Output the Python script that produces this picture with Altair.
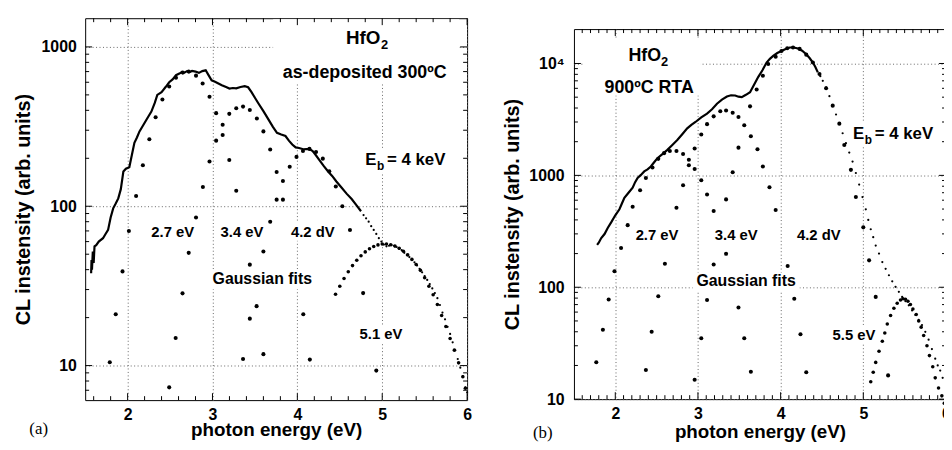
import altair as alt
import pandas as pd

FONT = "Liberation Sans"

# ---------------- panel (a): as-deposited 300 C ----------------
a_line_x = [1.57, 1.575, 1.58, 1.59, 1.60, 1.61, 1.63, 1.66, 1.71, 1.74, 1.77, 1.80, 1.83, 1.86, 1.89,
            1.92, 1.95, 1.98, 2.02, 2.05, 2.08, 2.11, 2.14, 2.18, 2.22, 2.25, 2.28, 2.32, 2.35, 2.40,
            2.45, 2.49, 2.53, 2.57, 2.61, 2.64, 2.67, 2.70, 2.73, 2.76, 2.80, 2.84, 2.88, 2.92, 2.95,
            2.99, 3.03, 3.07, 3.11, 3.16, 3.20, 3.24, 3.28, 3.33, 3.38, 3.42, 3.46, 3.50, 3.54, 3.60,
            3.65, 3.71, 3.76, 3.81, 3.86, 3.90, 3.94, 3.98, 4.02, 4.07, 4.14, 4.18, 4.21, 4.26, 4.31,
            4.36, 4.41, 4.46, 4.52, 4.58, 4.64, 4.70, 4.75]
a_line_y = [38, 46, 40, 52, 44, 56, 57, 60, 63, 67, 71, 85, 97, 104, 112,
            128, 165, 172, 176, 210, 250, 270, 295, 320, 348, 370, 393, 445, 500, 520,
            562, 600, 625, 664, 680, 697, 690, 705, 695, 707, 700, 687, 705, 713, 670,
            617, 605, 590, 575, 560, 548, 552, 550, 560, 567, 558, 520, 480, 443, 395,
            357, 316, 289, 282, 276, 258, 244, 234, 232, 228, 229, 222, 212, 195, 179,
            166, 155, 143, 131, 120, 111, 101, 93]
a_tail_x = [4.78, 4.81, 4.84, 4.87, 4.90, 4.93, 4.96, 4.99, 5.02, 5.05, 5.08, 5.11, 5.14, 5.17, 5.20,
            5.23, 5.26, 5.29, 5.32, 5.35, 5.38, 5.41, 5.44, 5.47, 5.50, 5.53, 5.56, 5.59, 5.62, 5.65,
            5.68, 5.71, 5.74, 5.77, 5.80, 5.83, 5.86, 5.89, 5.92, 5.95, 5.98, 6.00]
a_tail_y = [88, 84, 80, 75, 71, 67, 63, 60, 57.5, 56, 56.5, 57, 56.5, 55.5, 54,
            53, 51, 49.5, 48, 46, 44.5, 42.5, 40.5, 38.5, 36.5, 34.5, 32.5, 30.5, 28.5, 26.5,
            24, 21.5, 19.5, 17.5, 15.8, 14, 12.5, 11, 9.7, 8.6, 7.3, 6.8]
a_fit51_x = [4.45, 4.50, 4.55, 4.60, 4.65, 4.70, 4.75, 4.80, 4.85, 4.90, 4.95, 5.00, 5.05, 5.10, 5.15,
             5.20, 5.25, 5.30, 5.35, 5.40, 5.45, 5.50, 5.55, 5.60, 5.65, 5.70, 5.75, 5.80, 5.85, 5.90,
             5.95, 5.98]
a_fit51_y = [28.0, 31.5, 35.2, 38.8, 42.4, 45.8, 48.9, 51.7, 54.1, 55.9, 57.2, 57.9, 58.0, 57.4, 56.2,
             54.5, 52.2, 49.5, 46.4, 43.1, 39.6, 35.6, 31.5, 27.8, 24.2, 20.6, 17.6, 14.8, 12.5, 10.4,
             8.5, 7.2]
a_fit27_x = [1.79, 1.86, 1.94, 2.015, 2.10, 2.18, 2.256, 2.33, 2.41, 2.49, 2.57, 2.65, 2.72, 2.806,
             2.884, 2.965, 3.043, 3.12, 3.198, 3.28, 3.44, 3.52, 3.60]
a_fit27_y = [10.5, 21, 39, 70, 116, 181, 263, 362, 468, 565, 640, 690, 700, 660,
             589, 487, 384, 280, 195, 125, 43, 23.6, 11.8]
a_fit34_x = [2.49, 2.566, 2.647, 2.72, 2.806, 2.887, 2.965, 3.043, 3.12, 3.198, 3.28, 3.36, 3.44,
             3.523, 3.60, 3.68, 3.756, 3.83, 4.07, 4.147]
a_fit34_y = [7.3, 14.9, 28.4, 51, 85, 132, 191, 258, 325, 380, 412, 422, 402,
             355, 295, 227, 164, 110, 21, 10.9]
a_fit42_x = [3.36, 3.44, 3.60, 3.68, 3.756, 3.83, 3.91, 3.99, 4.066, 4.143, 4.22, 4.30, 4.376, 4.453,
             4.53, 4.62, 4.775, 4.93]
a_fit42_y = [11, 19.7, 52, 80, 110, 144, 177, 204, 222, 229, 219, 199, 166, 133,
             100, 71, 28.5, 9.3]

# ---------------- panel (b): 900 C RTA ----------------
b_line_x = [1.78, 1.80, 1.83, 1.87, 1.91, 1.95, 2.00, 2.05, 2.08, 2.11, 2.16, 2.21, 2.24, 2.27, 2.31,
            2.35, 2.39, 2.43, 2.47, 2.51, 2.57, 2.63, 2.69, 2.75, 2.81, 2.87, 2.92, 2.97, 3.04, 3.11,
            3.17, 3.23, 3.29, 3.35, 3.40, 3.45, 3.49, 3.53, 3.58, 3.63, 3.68, 3.73, 3.78, 3.83, 3.87,
            3.91, 3.96, 4.01, 4.06, 4.11, 4.16, 4.21, 4.26, 4.31, 4.35, 4.39, 4.42, 4.45]
b_line_y = [239, 250, 275, 299, 340, 380, 440, 498, 560, 630, 700, 775, 870, 950, 1010,
            1085, 1130, 1200, 1310, 1425, 1550, 1690, 1870, 2070, 2330, 2630, 2830, 3000, 3300, 3570,
            3900, 4370, 4750, 5070, 5200, 5180, 5050, 5000, 5250, 5530, 6500, 7600, 8700, 10200, 11000,
            11700, 12400, 12950, 13500, 13900, 13900, 13600, 13000, 12100, 11200, 10200, 9300, 8330]
b_tail_x = [4.48, 4.51, 4.55, 4.59, 4.63, 4.67, 4.71, 4.75, 4.79, 4.83, 4.87, 4.91, 4.95, 4.99, 5.03,
            5.06, 5.09, 5.12, 5.15, 5.19, 5.23, 5.27, 5.31, 5.35, 5.39, 5.43, 5.47, 5.51, 5.55, 5.59,
            5.63, 5.67, 5.71, 5.75, 5.79, 5.83, 5.87, 5.90, 5.93, 5.96, 5.99]
b_tail_y = [7700, 7000, 6130, 5100, 4230, 3500, 2900, 2380, 1940, 1600, 1330, 1050, 828, 640, 497,
            400, 330, 280, 236, 200, 168, 146, 128, 113, 101, 91, 82, 75, 69, 62,
            56.5, 51, 46, 40, 34, 28, 23, 20, 18, 15.5, 13.4]
b_fit55_x = [5.09, 5.12, 5.15, 5.19, 5.23, 5.26, 5.29, 5.33, 5.37, 5.41, 5.45, 5.48, 5.51, 5.54, 5.57,
             5.60, 5.64, 5.67, 5.70, 5.73, 5.77, 5.80, 5.84, 5.87, 5.91, 5.95, 5.98]
b_fit55_y = [14.3, 17.4, 21.3, 26.8, 32.9, 39, 47, 56, 65, 72, 77, 79, 78, 75, 70,
             64, 57, 50, 44, 37, 30, 24.5, 19.5, 15.5, 12.6, 10.7, 9.2]
b_fit27_x = [1.77, 1.85, 1.92, 1.99, 2.07, 2.15, 2.21, 2.30, 2.37, 2.45, 2.52, 2.59, 2.66, 2.74,
             2.82, 2.89, 2.96, 3.04, 3.11, 3.19, 3.34, 3.49, 3.56, 3.64]
b_fit27_y = [21.4, 41.7, 77.8, 139, 224, 359, 525, 736, 948, 1175, 1405, 1580, 1650, 1650,
             1550, 1380, 1140, 904, 675, 480, 199, 66, 35, 17.6]
b_fit34_x = [2.37, 2.44, 2.52, 2.60, 2.74, 2.82, 2.89, 2.96, 3.04, 3.11, 3.19, 3.27, 3.34, 3.42,
             3.49, 3.56, 3.64, 3.72, 3.785, 3.865, 3.94, 4.085, 4.165, 4.24, 4.31]
b_fit34_y = [18.2, 40, 83, 162, 514, 815, 1230, 1740, 2320, 2870, 3370, 3740, 3800, 3630,
             3330, 2810, 2240, 1710, 1200, 783, 490, 155, 79, 38, 17.4]
b_fit42_x = [2.96, 3.04, 3.11, 3.19, 3.34, 3.42, 3.49, 3.63, 3.71, 3.785, 3.85, 3.94, 4.01, 4.08,
             4.15, 4.23, 4.31, 4.39, 4.47, 4.55, 4.63, 4.71, 4.77, 4.85, 4.91, 5.00, 5.07, 5.15, 5.30]
b_fit42_y = [14.9, 35, 77, 160, 610, 1065, 1770, 4140, 5850, 7780, 9880, 11500, 12950, 13700,
             13900, 13500, 12000, 10200, 8050, 6000, 4200, 2900, 1870, 1120, 640, 343, 174, 82, 16.3]

# ---------------- axes ticks ----------------
x_major = [2, 3, 4, 5, 6]
a_x_minor = [1.6, 1.8, 2.2, 2.4, 2.6, 2.8, 3.2, 3.4, 3.6, 3.8, 4.2, 4.4, 4.6, 4.8, 5.2, 5.4, 5.6, 5.8]
b_x_minor = [1.6, 1.7, 1.8, 1.9, 2.1, 2.2, 2.3, 2.4, 2.5, 2.6, 2.7, 2.8, 2.9, 3.1, 3.2, 3.3, 3.4,
             3.5, 3.6, 3.7, 3.8, 3.9, 4.1, 4.2, 4.3, 4.4, 4.5, 4.6, 4.7, 4.8, 4.9, 5.1, 5.2, 5.3,
             5.4, 5.5, 5.6, 5.7, 5.8, 5.9]
a_y_major = [10, 100, 1000]
a_y_minor = [7, 8, 9, 20, 30, 40, 50, 60, 70, 80, 90, 200, 300, 400, 500, 600, 700, 800, 900]
b_y_major = [10, 100, 1000, 10000]
b_y_minor = [20, 30, 40, 50, 60, 70, 80, 90, 200, 300, 400, 500, 600, 700, 800, 900,
             2000, 3000, 4000, 5000, 6000, 7000, 8000, 9000]

# ---------------- annotations (pixel positions inside each plot) ----------------
a_center = {"t": ["HfO", "as-deposited 300ºC", "2.7 eV", "3.4 eV", "4.2 dV", "Gaussian fits", "5.1 eV"],
            "x": [281, 282.5, 88.5, 158.5, 230, 179, 299],
            "y": [26, 60, 221, 221, 221, 269, 324],
            "fs": [19, 18, 15, 15, 15, 16, 15]}
a_left = {"t": ["2", "E", "b", "= 4 keV"], "x": [299, 283, 295, 305], "y": [31, 148, 153, 148],
          "fs": [13, 17, 12, 17]}
a_serif = {"t": ["(a)"], "x": [-47], "y": [420], "fs": [17]}
a_rects = {"x0": [190, 279, 66, 136, 207, 125, 277], "x1": [378, 372, 111, 181, 253, 233, 321],
           "y0": [1, 133, 207, 207, 207, 255, 310], "y1": [66, 156, 225, 225, 225, 274, 328]}

b_center = {"t": ["HfO", "900ºC RTA", "2.7 eV", "3.4 eV", "4.2 dV", "Gaussian fits", "5.5 eV"],
            "x": [71.5, 76, 84, 164, 247.5, 174, 283],
            "y": [32, 65, 213, 213, 213, 260, 314],
            "fs": [18, 18, 15, 15, 15, 16, 15]}
b_left = {"t": ["2", "E", "b", "= 4 keV"], "x": [88, 282, 294, 304], "y": [37, 111, 116, 111],
          "fs": [13, 17, 12, 17]}
b_serif = {"t": ["(b)"], "x": [-31.5], "y": [413], "fs": [17]}
b_rects = {"x0": [10, 278, 62, 142, 225, 120, 262], "x1": [128, 366, 106, 186, 270, 228, 305],
           "y0": [10, 95, 199, 199, 199, 246, 300], "y1": [67, 119, 217, 217, 217, 265, 318]}


def make_panel(P):
    W, H = P["W"], P["H"]
    xs = alt.Scale(domain=[1.5, 6.0], nice=False, zero=False)
    ys = alt.Scale(type="log", domain=P["ydom"], nice=False)
    grid_kw = dict(grid=True, gridDash=[1, 2.5], gridColor="#666", gridWidth=1)
    xaxis = alt.Axis(values=x_major, format="d", ticks=False, domain=False,
                     labelFont=FONT, labelFontSize=16, labelFontWeight="bold", labelColor="black",
                     labelPadding=P["xlp"], labelFlush=False, labelOverlap=False,
                     title="photon energy (eV)", titleFont=FONT, titleFontSize=19,
                     titleFontWeight="bold", titleColor="black", titlePadding=P["xtp"], **grid_kw)
    yaxis = alt.Axis(values=P["ymaj"], labelExpr=P["yexpr"], ticks=False, domain=False,
                     labelFont=FONT, labelFontSize=16, labelFontWeight="bold", labelColor="black",
                     labelPadding=P["ylp"], labelFlush=False, labelOverlap=False,
                     title="CL instensity (arb. units)", titleFont=FONT, titleFontSize=20,
                     titleFontWeight="bold", titleColor="black", titlePadding=P["ytp"], **grid_kw)
    X = lambda f: alt.X(f, scale=xs, axis=xaxis)
    Y = lambda f: alt.Y(f, scale=ys, axis=yaxis)

    line = alt.Chart(pd.DataFrame({"x": P["lx"], "y": P["ly"]})).mark_line(
        color="black", strokeWidth=2.2).encode(x=X("x:Q"), y=Y("y:Q"))
    tail = alt.Chart(pd.DataFrame({"x": P["tx"], "y": P["ty"]})).mark_circle(
        color="black", size=5, opacity=1).encode(x=X("x:Q"), y=Y("y:Q"))
    dense = alt.Chart(pd.DataFrame({"x": P["dx"], "y": P["dy"]})).mark_circle(
        color="black", size=13, opacity=1).encode(x=X("x:Q"), y=Y("y:Q"))
    fx, fy = [], []
    for xx, yy in P["fits"]:
        fx += xx
        fy += yy
    fits = alt.Chart(pd.DataFrame({"x": fx, "y": fy})).mark_circle(
        color="black", size=17, opacity=1).encode(x=X("x:Q"), y=Y("y:Q"))

    rects = alt.Chart(pd.DataFrame(P["rects"])).mark_rect(fill="white").encode(
        x=alt.X("x0:Q", scale=None), x2="x1:Q",
        y=alt.Y("y0:Q", scale=None), y2="y1:Q")

    def texts(d, align, font, weight):
        return alt.Chart(pd.DataFrame(d)).mark_text(
            align=align, baseline="alphabetic", font=font, fontWeight=weight, color="black").encode(
            x=alt.X("x:Q", scale=None), y=alt.Y("y:Q", scale=None),
            size=alt.Size("fs:Q", scale=None, legend=None), text="t:N")

    t_center = texts(P["center"], "center", FONT, "bold")
    t_left = texts(P["left"], "left", FONT, "bold")
    t_serif = texts(P["serif"], "center", "Liberation Serif", "normal")

    # tick marks drawn inward on all four sides
    xt = {"x": [], "y0": [], "y1": []}
    for v, L in [(v, 7) for v in x_major] + [(v, 4) for v in P["xmin"]]:
        xt["x"] += [v, v]
        xt["y0"] += [H, 0]
        xt["y1"] += [H - L, L]
    yt = {"y": [], "x0": [], "x1": []}
    for v, L in [(v, 7) for v in P["ymaj"]] + [(v, 4) for v in P["ymin"]]:
        yt["y"] += [v, v]
        yt["x0"] += [0, W]
        yt["x1"] += [L, W - L]
    xticks = alt.Chart(pd.DataFrame(xt)).mark_rule(color="black", strokeWidth=1).encode(
        x=X("x:Q"), y=alt.Y("y0:Q", scale=None), y2="y1:Q")
    yticks = alt.Chart(pd.DataFrame(yt)).mark_rule(color="black", strokeWidth=1).encode(
        y=Y("y:Q"), x=alt.X("x0:Q", scale=None), x2="x1:Q")

    return alt.layer(line, tail, dense, fits, rects, t_center, t_left, t_serif, xticks, yticks
                     ).properties(width=W, height=H)


panel_a = make_panel(dict(
    W=386, H=386, ydom=[6.07, 1514], ymaj=a_y_major, ymin=a_y_minor, xmin=a_x_minor,
    yexpr="format(datum.value, 'd')", xlp=7, xtp=-2, ylp=9, ytp=8,
    lx=a_line_x, ly=a_line_y, tx=a_tail_x, ty=a_tail_y, dx=a_fit51_x, dy=a_fit51_y,
    fits=[(a_fit27_x, a_fit27_y), (a_fit34_x, a_fit34_y), (a_fit42_x, a_fit42_y)],
    rects=a_rects, center=a_center, left=a_left, serif=a_serif))

panel_b = make_panel(dict(
    W=376, H=374, ydom=[10, 20300], ymaj=b_y_major, ymin=b_y_minor, xmin=b_x_minor,
    yexpr="datum.value >= 10000 ? '10⁴' : format(datum.value, 'd')", xlp=7, xtp=1, ylp=10, ytp=6,
    lx=b_line_x, ly=b_line_y, tx=b_tail_x, ty=b_tail_y, dx=b_fit55_x, dy=b_fit55_y,
    fits=[(b_fit27_x, b_fit27_y), (b_fit34_x, b_fit34_y), (b_fit42_x, b_fit42_y)],
    rects=b_rects, center=b_center, left=b_left, serif=b_serif))

# an empty strip above panel (b) pushes its frame a little lower than panel (a)'s
spacer = alt.Chart(pd.DataFrame({"t": [""]})).mark_text().encode(text="t:N").properties(
    width=376, height=9, view=alt.ViewBackground(stroke="transparent", fill="transparent"))

# negative right/bottom padding crops the chart at the window edges, as in the original
chart = alt.hconcat(panel_a, alt.vconcat(spacer, panel_b, spacing=0), spacing=30).properties(
    padding={"left": 4, "top": 6, "right": -7, "bottom": -3},
    background="white",
).configure_view(stroke="black", strokeWidth=1)

chart.save("out.html", embed_options={"renderer": "svg", "actions": False})
